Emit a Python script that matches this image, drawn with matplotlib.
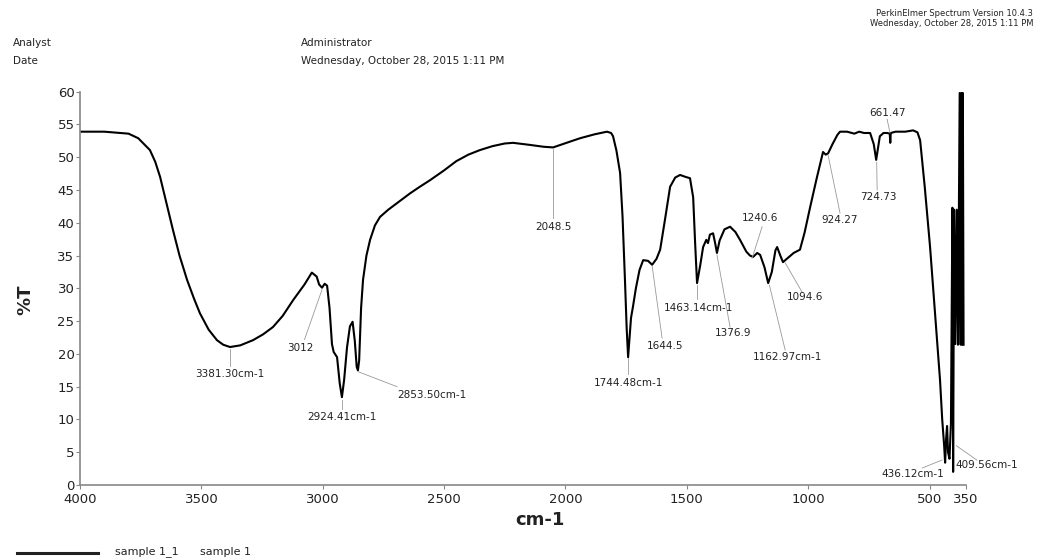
import numpy as np
import matplotlib.pyplot as plt

# FTIR spectrum (wavenumber cm-1, %T)
wn = [4000, 3900, 3800, 3760, 3712, 3690, 3670, 3645, 3617, 3590,
      3559, 3530, 3506, 3470, 3436, 3410, 3382, 3340, 3287, 3245,
      3205, 3165, 3122, 3075, 3045, 3025, 3015, 3003, 2992, 2982,
      2972, 2962, 2955, 2941, 2930, 2921, 2912, 2900, 2888, 2877,
      2868, 2860, 2855, 2850, 2842, 2834, 2820, 2805, 2785, 2764,
      2730, 2694, 2640, 2600, 2558, 2500, 2450, 2400, 2352, 2300,
      2250, 2216, 2150, 2090, 2051, 2020, 1980, 1940, 1880, 1829,
      1812, 1804, 1790, 1775, 1765, 1755, 1748, 1742, 1736, 1730,
      1722, 1710, 1695, 1680, 1660, 1643, 1625, 1610, 1590, 1569,
      1548, 1528, 1505, 1487, 1474, 1466, 1458, 1445, 1433, 1420,
      1413, 1405, 1392, 1384, 1376, 1365, 1345, 1322, 1300, 1281,
      1255, 1240, 1227, 1210, 1198, 1180, 1165, 1150, 1135, 1128,
      1115, 1104, 1085, 1060, 1034, 1015, 992, 965, 939, 928,
      918, 900, 880, 869, 840, 810, 790, 770, 745, 730,
      720, 712, 705, 690, 675, 664, 662, 660, 640, 600,
      568, 550, 539, 520, 498, 478, 457, 448, 440, 436,
      432, 428, 424, 418, 412, 406, 403, 399, 394, 388,
      383, 376, 372, 369, 366, 363, 360]
T = [53.9, 53.9, 53.6, 52.9, 51.1, 49.3, 47.0, 43.2, 38.9, 35.0,
     31.3, 28.4, 26.2, 23.7, 22.1, 21.4, 21.05, 21.3, 22.1, 23.0,
     24.1, 25.8, 28.2, 30.6, 32.4, 31.8, 30.6, 30.1, 30.7, 30.4,
     27.0, 21.5, 20.3, 19.5, 15.5, 13.4, 16.0, 21.0, 24.2, 24.9,
     22.0, 18.0, 17.5, 19.0, 27.0, 31.3, 35.0, 37.4, 39.6, 40.9,
     42.0, 43.0, 44.5, 45.5, 46.5, 48.0, 49.4, 50.4, 51.1, 51.7,
     52.1, 52.2, 51.9, 51.6, 51.5, 51.9, 52.4, 52.9, 53.5, 53.9,
     53.7, 53.2, 51.0, 47.6, 41.0, 31.3, 24.0, 19.5, 22.5, 25.5,
     27.2, 30.0, 32.8, 34.3, 34.2, 33.6, 34.5, 35.9, 40.5, 45.5,
     46.9, 47.3, 47.0, 46.8, 43.9, 37.0, 30.8, 33.5, 36.3, 37.4,
     36.9, 38.2, 38.4, 37.0, 35.4, 37.3, 39.0, 39.4, 38.6, 37.4,
     35.6, 35.0, 34.8, 35.4, 35.1, 33.2, 30.8, 32.5, 35.8, 36.3,
     35.0, 34.0, 34.6, 35.4, 35.9, 38.5, 42.4, 46.8, 50.8, 50.4,
     50.6, 52.0, 53.4, 53.9, 53.9, 53.6, 53.9, 53.7, 53.7, 52.0,
     49.6, 51.5, 53.2, 53.7, 53.7, 53.6, 52.2, 53.7, 53.9, 53.9,
     54.1, 53.8, 52.6, 45.5, 36.3, 26.5, 16.0, 10.0, 6.0, 3.4,
     7.0, 9.0, 5.0, 4.0, 9.5, 42.3, 2.0, 42.0, 21.5, 42.0,
     21.4, 59.8, 21.4, 59.8, 21.4, 59.8, 21.4]

# peak labels: text, label position (wn, %T), leader start, leader end
peak_labels = ['3381.30cm-1', '3012', '2924.41cm-1', '2853.50cm-1', '2048.5',
               '1744.48cm-1', '1644.5', '1463.14cm-1', '1376.9', '1240.6',
               '1162.97cm-1', '1094.6', '924.27', '724.73', '661.47',
               '436.12cm-1', '409.56cm-1']
label_xy = [(3382, 16.9), (3094, 20.9), (2921, 10.4), (2550, 13.7), (2051, 39.4),
            (1742, 15.6), (1590, 21.2), (1454, 27.0), (1310, 23.2), (1198, 40.7),
            (1087, 19.5), (1013, 28.7), (869, 40.4), (712, 43.9), (675, 56.8),
            (568, 1.7), (263, 3.0)]
leader_from = [(3382, 20.8), (3003, 29.8), (2921, 13.0), (2855, 17.3), (2051, 51.3),
               (1742, 19.3), (1643, 33.4), (1458, 30.5), (1376, 35.1), (1231, 34.6),
               (1160, 30.5), (1095, 33.9), (918, 50.3), (718, 49.2), (663, 53.7),
               (449, 3.8), (390, 6.0)]
leader_to = [(3382, 18.2), (3075, 22.2), (2921, 11.6), (2694, 15.0), (2051, 40.8),
             (1742, 16.9), (1602, 22.4), (1458, 28.3), (1322, 24.1), (1190, 39.4),
             (1095, 20.6), (1025, 29.4), (869, 41.5), (716, 45.0), (675, 55.8),
             (530, 2.6), (305, 3.8)]

W, H = 1037, 558
fig = plt.figure(figsize=(W / 100, H / 100), dpi=100)
ax = fig.add_axes([80 / W, 1 - 485 / H, 886 / W, 393.3 / H])

ax.plot(wn, T, color='black', lw=1.5)

for lab, xy, p0, p1 in zip(peak_labels, label_xy, leader_from, leader_to):
    ax.plot([p0[0], p1[0]], [p0[1], p1[1]], color='#999999', lw=0.6, clip_on=False)
    ax.text(xy[0], xy[1], lab, fontsize=7.5, ha='center', va='center',
            color='#222222', clip_on=False)

ax.set_xlim(4000, 350)
ax.set_ylim(0, 60)
ax.set_xticks([4000, 3500, 3000, 2500, 2000, 1500, 1000, 500, 350])
ax.set_xticklabels(['4000', '3500', '3000', '2500', '2000', '1500', '1000', '500', '350'])
ax.set_yticks(np.arange(0, 61, 5))
ax.tick_params(direction='out', length=3, width=0.8, colors='#888888',
               labelcolor='#222222', labelsize=9.5, pad=1)
ax.tick_params(axis='x', pad=2.5)
for s in ['top', 'right']:
    ax.spines[s].set_visible(False)
for s in ['left', 'bottom']:
    ax.spines[s].set_color('#888888')
    ax.spines[s].set_linewidth(1.2)

fig.text(540 / W, 1 - 520 / H, 'cm-1', fontsize=13, fontweight='bold',
         ha='center', va='center', color='#222222')
fig.text(25 / W, 1 - 300 / H, '%T', fontsize=13, fontweight='bold', rotation=90,
         ha='center', va='center', color='#222222')

# header
fig.text(1033 / W, 1 - 14 / H, 'PerkinElmer Spectrum Version 10.4.3', fontsize=6,
         ha='right', va='center', color='#222222')
fig.text(1033 / W, 1 - 23 / H, 'Wednesday, October 28, 2015 1:11 PM', fontsize=6,
         ha='right', va='center', color='#222222')
fig.text(13 / W, 1 - 43 / H, 'Analyst', fontsize=7.5, ha='left', va='center', color='#222222')
fig.text(13 / W, 1 - 61 / H, 'Date', fontsize=7.5, ha='left', va='center', color='#222222')
fig.text(301 / W, 1 - 43 / H, 'Administrator', fontsize=7.5, ha='left', va='center', color='#222222')
fig.text(301 / W, 1 - 61 / H, 'Wednesday, October 28, 2015 1:11 PM', fontsize=7.5,
         ha='left', va='center', color='#222222')

# legend
fig.add_artist(plt.Line2D([17 / W, 98 / W], [1 - 553 / H, 1 - 553 / H], color='#222222', lw=2.2))
fig.text(115 / W, 1 - 552 / H, 'sample 1_1', fontsize=8, ha='left', va='center', color='#222222')
fig.text(200 / W, 1 - 552 / H, 'sample 1', fontsize=8, ha='left', va='center', color='#222222')

fig.savefig('out.png', dpi=100)
